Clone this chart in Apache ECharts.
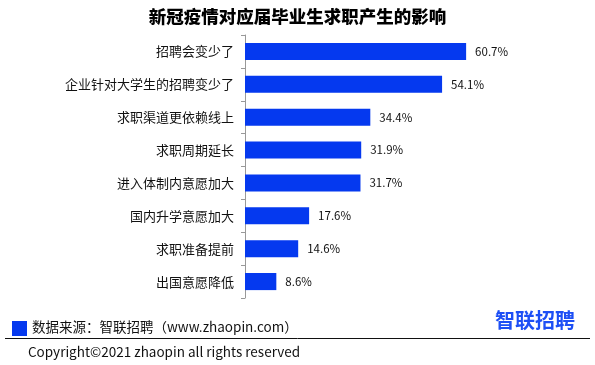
<!DOCTYPE html>
<html><head><meta charset="utf-8">
<script src="https://cdn.jsdelivr.net/npm/echarts@6/dist/echarts.min.js"></script>
<style>html,body{margin:0;padding:0;background:#fff}#c{width:595px;height:365px}</style>
</head><body><div id="c"></div>
<script>
var categories = ['招聘会变少了','企业针对大学生的招聘变少了','求职渠道更依赖线上','求职周期延长','进入体制内意愿加大','国内升学意愿加大','求职准备提前','出国意愿降低'];
var values = [60.7, 54.1, 34.4, 31.9, 31.7, 17.6, 14.6, 8.6];
var titleText = '新冠疫情对应届毕业生求职产生的影响';
var sourceText = '数据来源：智联招聘（www.zhaopin.com）';
var copyrightText = 'Copyright©2021 zhaopin all rights reserved';
var logoText = '智联招聘';

var chart = echarts.init(document.getElementById('c'));
var font = '"Noto Sans CJK SC", "Noto Sans", sans-serif';
chart.setOption({
  animation: false,
  title: {text: titleText, left: 'center', top: 3, textStyle: {fontFamily: font, fontSize: 17.5, fontWeight: 900, color: '#000'}},
  grid: {left: 245, top: 35, width: 255, height: 263},
  xAxis: {type: 'value', min: 0, max: 70, show: false},
  yAxis: {type: 'category', data: categories, inverse: true,
    axisLine: {lineStyle: {color: '#999'}},
    axisTick: {show: true, length: 4, lineStyle: {color: '#999'}},
    axisLabel: {fontFamily: font, fontSize: 13, color: '#111', margin: 11}},
  series: [{type: 'bar', data: values, barCategoryGap: '48%',
    itemStyle: {color: '#0539ef'},
    label: {show: true, position: 'right', distance: 9, formatter: function(p){return p.value.toFixed(1)+'%';}, fontFamily: font, fontSize: 11.5, color: '#111'}}],
  graphic: [
    {type: 'rect', shape: {x: 12, y: 321, width: 15, height: 15}, style: {fill: '#0539ef'}},
    {type: 'text', left: 32, top: 320, style: {text: sourceText, font: '13.5px ' + font, fill: '#111'}},
    {type: 'line', shape: {x1: 5, y1: 338.5, x2: 590, y2: 338.5}, style: {stroke: '#111', lineWidth: 1}},
    {type: 'text', left: 28, top: 345, style: {text: copyrightText, font: '13.5px ' + font, fill: '#111'}},
    {type: 'text', left: 495, top: 310, style: {text: logoText, font: 'bold 20px ' + font, fill: '#1d4ff5'}}
  ]
});
</script></body></html>
